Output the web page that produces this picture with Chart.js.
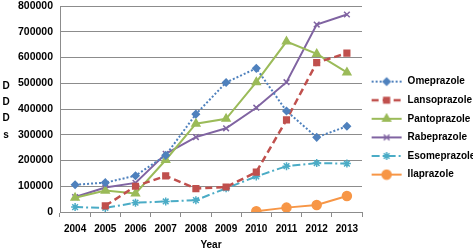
<!DOCTYPE html>
<html>
<head>
<meta charset="utf-8">
<script src="https://cdn.jsdelivr.net/npm/chart.js@4/dist/chart.umd.min.js"></script>
<style>
html,body{margin:0;padding:0;background:#fff;}
#wrap{position:relative;width:473px;height:249px;}
</style>
</head>
<body>
<div id="wrap"><canvas id="c" width="473" height="249"></canvas></div>
<script>
const years = ['2004','2005','2006','2007','2008','2009','2010','2011','2012','2013'];
const omeprazole   = [106000,114000,141000,220000,380000,503000,558000,392000,290000,333000];
const lansoprazole = [null,24000,100000,140000,91000,97000,155000,358000,580000,617000];
const pantoprazole = [55000,83000,72000,202000,343000,362000,504000,662000,614000,542000];
const rabeprazole  = [58000,95000,113000,226000,291000,325000,405000,504000,728000,767000];
const esomeprazole = [19000,16000,36000,41000,46000,92000,138000,178000,190000,188000];
const ilaprazole   = [null,null,null,null,null,null,3000,17000,27000,62000];
const yTitleLetters = ['D','D','D','s'];
const xTitle = 'Year';

const FONT = "'Liberation Sans', Arial, sans-serif";

const seriesDefs = [
  {label:'Omeprazole', data:omeprazole, color:'#4F81BD', dash:[2,2], style:'rectRot', r:3.5, bw:2},
  {label:'Lansoprazole', data:lansoprazole, color:'#C0504D', dash:[7,4], style:'rect', r:4, bw:2.5},
  {label:'Pantoprazole', data:pantoprazole, color:'#9BBB59', dash:[], style:'triangle', r:4.5, bw:2},
  {label:'Rabeprazole', data:rabeprazole, color:'#8064A2', dash:[], style:'crossRot', r:4, bw:2},
  {label:'Esomeprazole', data:esomeprazole, color:'#4BACC6', dash:[8,3,2,3], style:'star', r:4, bw:2},
  {label:'Ilaprazole', data:ilaprazole, color:'#F79646', dash:[], style:'circle', r:4.5, bw:2}
];

const datasets = seriesDefs.map(d => ({
  label: d.label,
  data: d.data,
  borderColor: d.color,
  backgroundColor: d.color,
  borderWidth: d.bw,
  borderDash: d.dash,
  pointStyle: d.style,
  pointRadius: d.r,
  pointBorderWidth: 1.5,
  pointBackgroundColor: d.color,
  pointBorderColor: d.color,
  tension: 0,
  spanGaps: false
}));

const yTitlePlugin = {
  id:'yTitle',
  afterDraw(chart){
    const ctx = chart.ctx;
    ctx.save();
    ctx.font = "bold 10px " + FONT;
    ctx.fillStyle = '#000';
    ctx.textAlign = 'center';
    ctx.textBaseline = 'middle';
    const ys = [86,102,118,135];
    yTitleLetters.forEach((t,i)=>ctx.fillText(t, 6, ys[i]));
    ctx.restore();
  }
};

function makeImg(d){
  const cv = document.createElement('canvas');
  cv.width = 32; cv.height = 12;
  const ctx = cv.getContext('2d');
  ctx.strokeStyle = d.color; ctx.fillStyle = d.color; ctx.lineWidth = d.bw;
  ctx.setLineDash(d.dash);
  ctx.beginPath(); ctx.moveTo(1,6); ctx.lineTo(31,6); ctx.stroke();
  ctx.setLineDash([]);
  ctx.lineWidth = 1.5;
  Chart.helpers.drawPoint(ctx, {pointStyle:d.style, radius:d.r, rotation:0, borderWidth:1.5}, 16, 6);
  return cv;
}
const legendImgs = seriesDefs.map(makeImg);

new Chart(document.getElementById('c'), {
  type:'line',
  data:{labels:years, datasets:datasets},
  plugins:[yTitlePlugin],
  options:{
    responsive:false,
    animation:false,
    devicePixelRatio:1,
    layout:{padding:{left:12, top:4, right:0, bottom:0}},
    plugins:{
      tooltip:{enabled:false},
      legend:{
        position:'right',
        maxWidth:111,
        title:{display:true, text:' ', font:{size:1}, padding:{top:1, bottom:1}},
        labels:{
          usePointStyle:true,
          pointStyleWidth:32,
          padding:8.6,
          color:'#000',
          font:{family:FONT, size:10, weight:'bold'},
          generateLabels(chart){
            return chart.data.datasets.map((ds,i)=>({
              text: ds.label,
              fillStyle: ds.borderColor,
              strokeStyle: ds.borderColor,
              pointStyle: legendImgs[i],
              datasetIndex:i,
              hidden:false,
              lineWidth:0,
              fontColor:'#000'
            }));
          }
        }
      }
    },
    scales:{
      x:{
        offset:true,
        grid:{display:true, drawOnChartArea:false, offset:true, tickLength:5, color:'#8c8c8c'},
        border:{color:'#8c8c8c'},
        ticks:{color:'#000', font:{family:FONT, size:10, weight:'bold'}, padding:6, maxRotation:0, autoSkip:false},
        title:{display:true, text:xTitle, color:'#000', font:{family:FONT, size:10, weight:'bold'}, padding:{top:2, bottom:-2}},
        afterFit(scale){ scale.height = 37; scale.paddingLeft = 0; scale.paddingRight = 0; }
      },
      y:{
        min:0, max:800000,
        grid:{color:'#8c8c8c', drawTicks:false},
        border:{color:'#8c8c8c'},
        ticks:{stepSize:100000, color:'#000', padding:7, font:{family:FONT, size:10.5, weight:'bold'}, callback:v=>String(v)},
        afterFit(scale){ scale.width = 48; scale.paddingTop = 0; scale.paddingBottom = 0; }
      }
    }
  }
});
</script>
</body>
</html>
